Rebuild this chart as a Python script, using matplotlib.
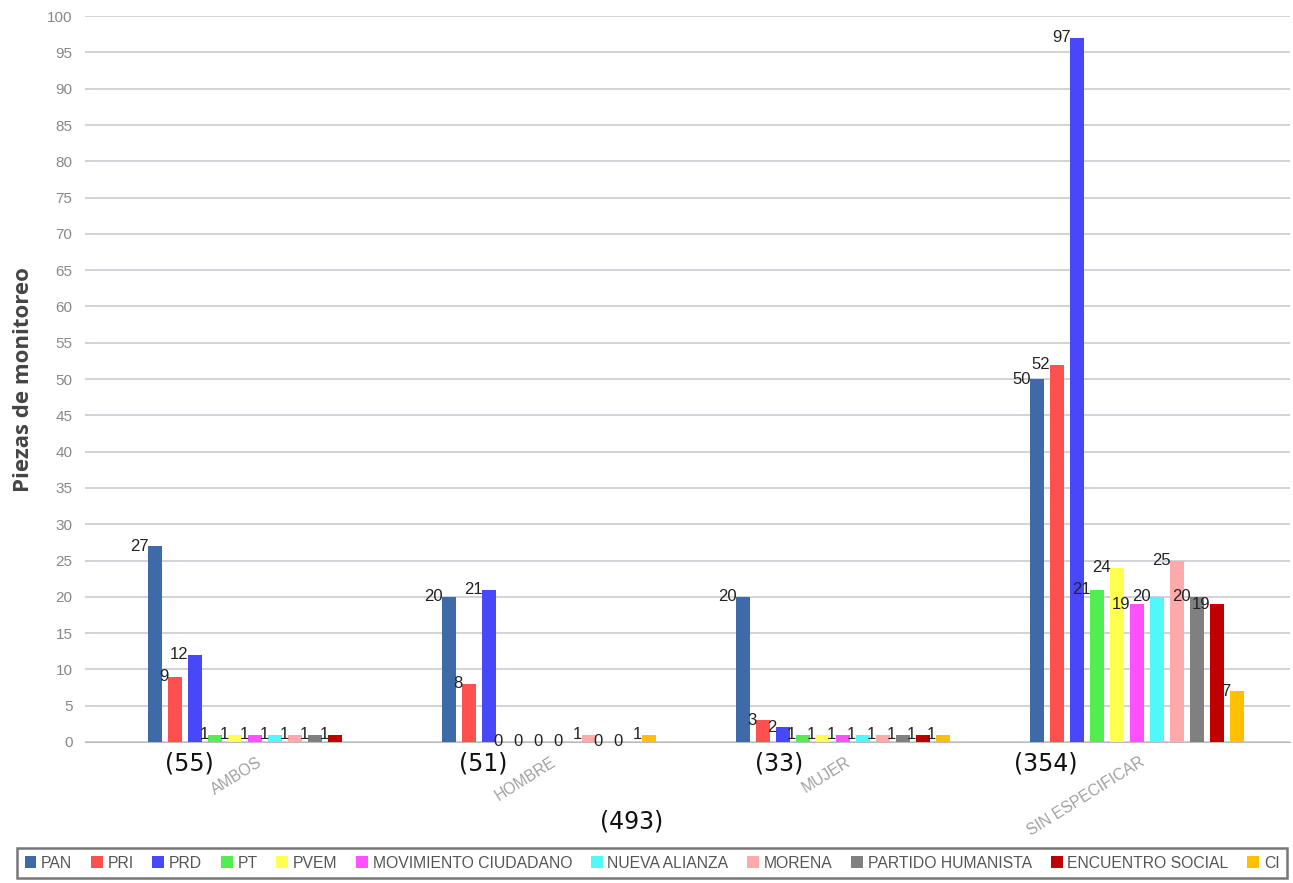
import matplotlib
matplotlib.use('Agg')
import matplotlib.pyplot as plt
import numpy as np

plt.rcParams['font.family'] = ['Liberation Sans', 'DejaVu Sans']

# datos
categorias = ['AMBOS', 'HOMBRE', 'MUJER', 'SIN ESPECIFICAR']
totales = ['(55)', '(51)', '(33)', '(354)']
total_general = '(493)'
partidos = ['PAN', 'PRI', 'PRD', 'PT', 'PVEM', 'MOVIMIENTO CIUDADANO', 'NUEVA ALIANZA',
            'MORENA', 'PARTIDO HUMANISTA', 'ENCUENTRO SOCIAL', 'CI']
colores = ['#3f6aa8', '#ff5050', '#4848f8', '#50ee50', '#ffff50', '#ff50ff', '#50f8f8',
           '#ffaaaa', '#808080', '#c00000', '#ffc000']

ambos = [27, 9, 12, 1, 1, 1, 1, 1, 1, 1, 0]
hombre = [20, 8, 21, 0, 0, 0, 0, 1, 0, 0, 1]
mujer = [20, 3, 2, 1, 1, 1, 1, 1, 1, 1, 1]
sin_especificar = [50, 52, 97, 21, 24, 19, 20, 25, 20, 19, 7]
valores = np.array([ambos, hombre, mujer, sin_especificar])

fig = plt.figure(figsize=(12.93, 8.83), dpi=100)
ax = fig.add_axes([0.0657, 0.1597, 0.932, 0.822])

paso = 20 / 294
ancho = 14 / 294
grupos = np.arange(len(categorias))

for j, partido in enumerate(partidos):
    x = grupos + j * paso
    ax.bar(x, valores[:, j], ancho, color=colores[j], label=partido, zorder=3)
    for xi, v in zip(x, valores[:, j]):
        if v == 0 and j == len(partidos) - 1 and xi < 1:
            continue
        ax.text(xi - ancho / 2 + 0.002, v, str(v), ha='right', va='center',
                fontsize=12, color='#222222', zorder=4)

ax.set_ylim(0, 100)
ax.set_xlim(-0.238, 3.861)
ax.set_yticks(np.arange(0, 101, 5))
ax.tick_params(axis='y', length=0, labelsize=11, labelcolor='#888888', pad=9)
ax.grid(axis='y', color='#d2d2d8', linewidth=1.4, zorder=0)
for s in ['top', 'right', 'left']:
    ax.spines[s].set_visible(False)
ax.spines['bottom'].set_color('#bbbbbb')

ax.set_xticks(grupos + 5.1 * paso)
ax.set_xticklabels(categorias, rotation=32, ha='right', rotation_mode='anchor',
                   fontsize=11.3, color='#a0a0a0')
ax.tick_params(axis='x', length=0, pad=9)

ax.set_ylabel('Piezas de monitoreo', fontsize=16, fontweight='bold', color='#444444',
              labelpad=9, family=['Open Sans', 'DejaVu Sans'])

# totales por grupo
desp = [1.7, 1.7, 1.8, 0.45]
for g, t, d in zip(grupos, totales, desp):
    ax.text(g + d * paso, -1.3, t, ha='center', va='top', fontsize=17, color='#111111',
            family=['DejaVu Sans'])
fig.text(632 / 1293, 1 - 822 / 883, total_general, ha='center', va='center', fontsize=17,
         color='#111111', family=['DejaVu Sans'])

leg = fig.legend(loc='center', bbox_to_anchor=(652 / 1293, 20 / 883),
                 ncol=len(partidos), fontsize=11.3, frameon=True, fancybox=False,
                 handlelength=0.75, handleheight=0.75, handletextpad=0.3, columnspacing=1.2,
                 borderaxespad=0, borderpad=0.45, labelcolor='#555555')
leg.get_frame().set_edgecolor('#555555')
leg.get_frame().set_linewidth(1.8)

fig.savefig('out.png', dpi=100)
